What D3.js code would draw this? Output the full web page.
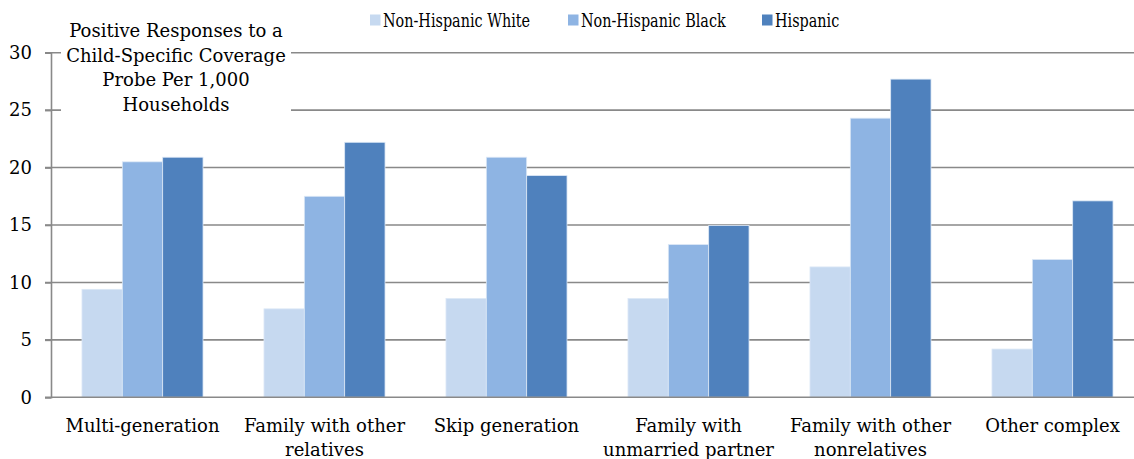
<!DOCTYPE html>
<html><head><meta charset="utf-8">
<script src="https://cdn.jsdelivr.net/npm/d3@7"></script>
<style>body{margin:0;background:#fff}svg{display:block}text{font-family:"DejaVu Serif",serif;fill:#000}</style>
</head><body><svg id="c" width="1134" height="459"></svg>
<script>
const categories = ["Multi-generation","Family with other\nrelatives","Skip generation","Family with\nunmarried partner","Family with other\nnonrelatives","Other complex"];
const seriesNames = ["Non-Hispanic White","Non-Hispanic Black","Hispanic"];
const white = [9.4, 7.7, 8.6, 8.6, 11.35, 4.2];
const black = [20.5, 17.5, 20.9, 13.3, 24.3, 12.0];
const hispanic = [20.9, 22.2, 19.3, 14.95, 27.7, 17.1];
const yTicks = [0,5,10,15,20,25,30];
const titleLines = ["Positive Responses to a","Child-Specific Coverage","Probe Per 1,000","Households"];
const colors = ["#C6D9F0","#8EB4E3","#4F81BD"];
const series = [white, black, hispanic];

const svg = d3.select("#c");
const fs = 18;
const x0 = d3.scaleBand().domain(categories).range([51.5, 1143.5]).paddingInner(0.335).paddingOuter(0.1675);
const x1 = d3.scaleBand().domain(seriesNames).range([0, x0.bandwidth()]);
const y = d3.scaleLinear().domain([0,30]).range([397.3, 52.7]);

svg.append("g").selectAll("line").data(yTicks.filter(d=>d>0)).join("line")
  .attr("x1",45).attr("x2",1134).attr("y1",d=>y(d)).attr("y2",d=>y(d))
  .attr("stroke","#898989").attr("stroke-width",1.6);

const ya = svg.append("g").attr("transform","translate(51,0)")
  .call(d3.axisLeft(y).tickValues(yTicks).tickSize(6).tickPadding(13));
ya.select(".domain").attr("stroke","#898989").attr("stroke-width",1.6);
ya.selectAll(".tick line").attr("stroke","#898989").attr("stroke-width",1.6);
ya.selectAll(".tick text").style("font-size",fs+"px").style("font-family","DejaVu Serif").attr("fill","#000");

const g = svg.append("g");
categories.forEach((c,i)=>{
  seriesNames.forEach((s,j)=>{
    g.append("rect").attr("x",x0(c)+x1(s)).attr("width",x1.bandwidth())
      .attr("y",y(series[j][i])).attr("height",y(0)-y(series[j][i]))
      .attr("fill",colors[j]).attr("stroke","#dce8f6").attr("stroke-width",0.8);
  });
});

svg.append("line").attr("x1",45).attr("x2",1134).attr("y1",y(0)).attr("y2",y(0))
  .attr("stroke","#898989").attr("stroke-width",1.6);

categories.forEach(c=>{
  const t = svg.append("text").attr("text-anchor","middle").style("font-size",fs+"px");
  c.split("\n").forEach((ln,k)=>{
    t.append("tspan").attr("x",x0(c)+x0.bandwidth()/2).attr("y",432+k*24).text(ln);
  });
});

svg.append("rect").attr("x",61).attr("y",14).attr("width",230).attr("height",104).attr("fill","#fff");
const tt = svg.append("text").attr("text-anchor","middle").style("font-size",fs+"px");
titleLines.forEach((ln,k)=>tt.append("tspan").attr("x",176).attr("y",37+k*24.5).text(ln));

const lx = [370,568,762];
seriesNames.forEach((s,j)=>{
  svg.append("rect").attr("x",lx[j]).attr("y",14.5).attr("width",10.5).attr("height",11).attr("fill",colors[j]);
  svg.append("text").attr("transform",`translate(${lx[j]+13},27) scale(0.8,1)`)
    .style("font-size",fs+"px").text(s);
});
</script></body></html>
